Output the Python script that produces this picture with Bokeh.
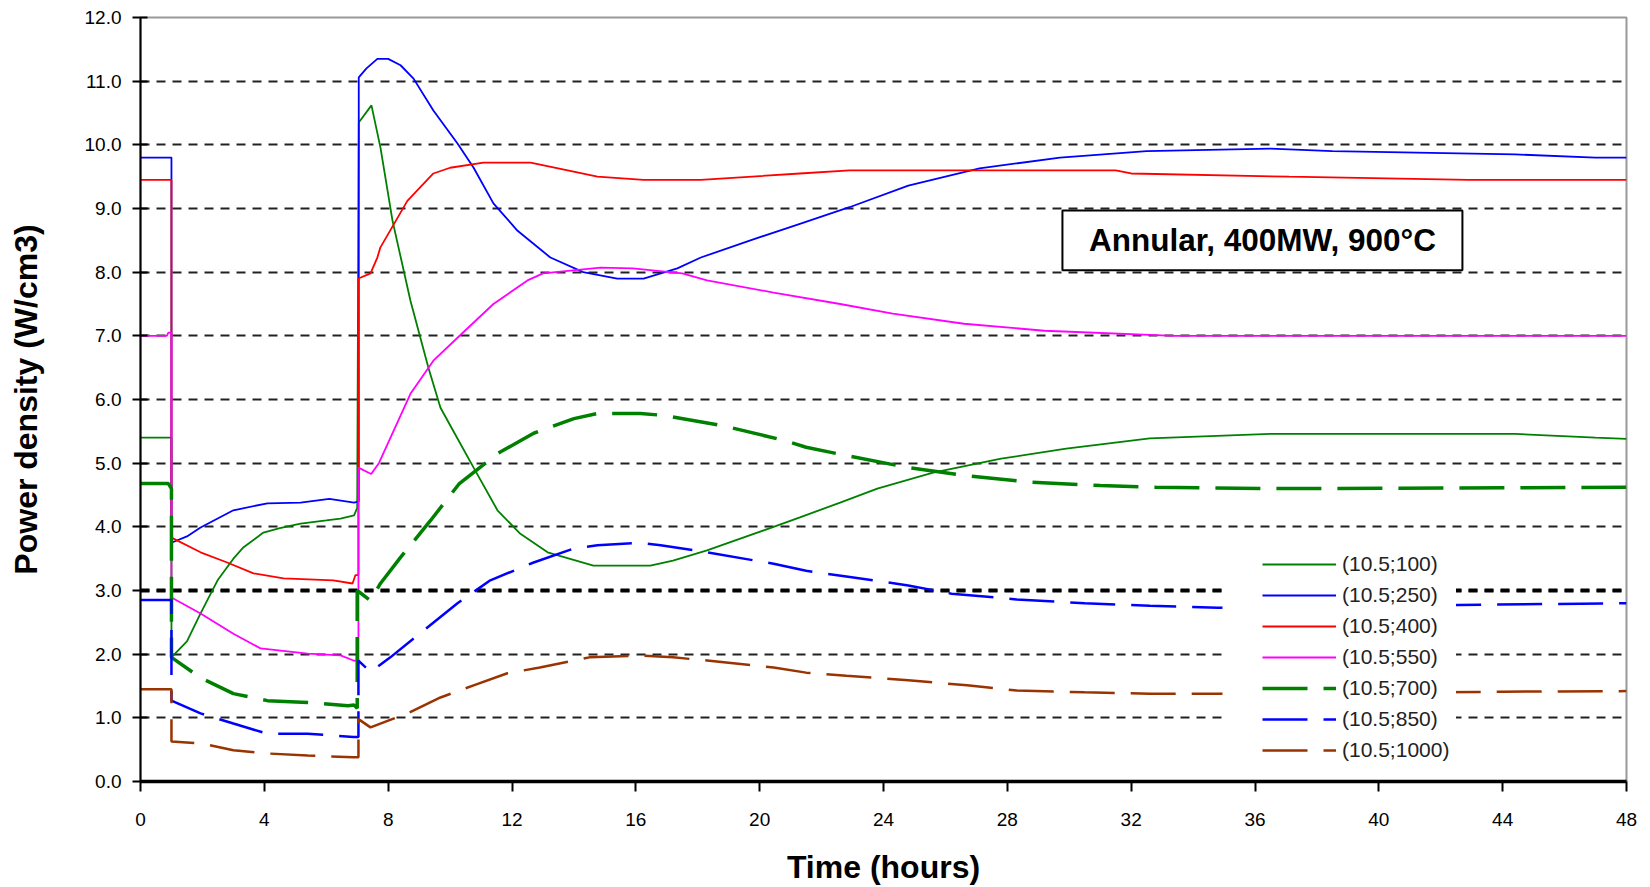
from bokeh.plotting import figure
from bokeh.models import (Range1d, FixedTicker, Span, BoxAnnotation, Label,
                          PrintfTickFormatter, Legend, LegendItem)
from bokeh.embed import file_html
from bokeh.resources import INLINE

# ---- data ----
labels = ["(10.5;100)", "(10.5;250)", "(10.5;400)", "(10.5;550)",
          "(10.5;700)", "(10.5;850)", "(10.5;1000)"]

t100 = [0, 1.0, 1.0, 1.5, 1.94, 2.49, 3.0, 3.33, 3.97, 4.5, 5.17, 6.0, 6.46, 6.9, 7.0, 7.05,
        7.46, 7.75, 8.14, 8.72, 9.3, 9.69, 10.1, 10.76, 11.53, 12.27, 13.15, 14.63, 16.47,
        17.2, 18.3, 20.45, 21.3, 22.6, 23.8, 25.6, 27.8, 29.9, 32.6, 36.5, 44.4, 47.0, 48.0]
v100 = [5.4, 5.4, 1.95, 2.2, 2.64, 3.16, 3.5, 3.68, 3.91, 3.98, 4.05, 4.1, 4.13, 4.18, 4.3, 10.35,
        10.62, 9.96, 8.81, 7.55, 6.5, 5.87, 5.51, 4.93, 4.26, 3.89, 3.6, 3.39, 3.39,
        3.47, 3.63, 4.0, 4.15, 4.38, 4.6, 4.85, 5.07, 5.23, 5.39, 5.46, 5.46, 5.4, 5.38]

t250 = [0, 1.0, 1.0, 1.5, 1.94, 3.0, 4.1, 5.17, 6.1, 6.9, 7.05, 7.05, 7.3, 7.65, 8.0, 8.4,
        8.82, 9.46, 10.24, 10.76, 11.4, 12.18, 13.24, 14.3, 15.4, 16.25, 17.34, 18.1, 19.7,
        21.3, 22.9, 24.8, 27.1, 29.7, 32.5, 36.5, 38.5, 44.4, 47.0, 48.0]
v250 = [9.8, 9.8, 3.75, 3.85, 3.99, 4.26, 4.37, 4.38, 4.44, 4.38, 4.4, 11.06, 11.2, 11.35, 11.35, 11.25,
        11.04, 10.54, 10.02, 9.64, 9.08, 8.65, 8.23, 8.0, 7.9, 7.9, 8.06, 8.23, 8.5,
        8.76, 9.02, 9.36, 9.63, 9.8, 9.9, 9.94, 9.9, 9.85, 9.8, 9.8]

t400 = [0, 1.0, 1.0, 1.94, 2.8, 3.65, 4.62, 6.23, 6.85, 6.94, 7.04, 7.04, 7.43, 7.65, 7.75,
        8.62, 9.46, 10.0, 11.08, 12.6, 13.8, 14.76, 16.25, 18.1, 21.3, 22.9, 31.5, 32.0,
        37.1, 42.9, 48.0]
v400 = [9.45, 9.45, 3.83, 3.6, 3.44, 3.27, 3.19, 3.16, 3.11, 3.24, 3.24, 7.9, 7.98, 8.23, 8.39,
        9.12, 9.55, 9.64, 9.72, 9.72, 9.6, 9.5, 9.45, 9.45, 9.55, 9.6, 9.6, 9.55,
        9.5, 9.45, 9.45]

t550 = [0, 0.85, 0.9, 1.0, 1.0, 1.94, 3.0, 3.88, 5.4, 6.46, 6.88, 7.04, 7.04, 7.45, 7.7,
        8.72, 9.46, 10.24, 11.4, 12.5, 13.0, 14.86, 15.9, 17.5, 18.3, 20.45, 22.6, 24.3,
        26.6, 29.2, 33.4, 48.0]
v550 = [7.0, 7.0, 7.05, 7.05, 2.89, 2.64, 2.32, 2.09, 2.01, 1.98, 1.9, 1.9, 4.93, 4.83, 5.0,
        6.09, 6.61, 6.97, 7.5, 7.87, 7.98, 8.07, 8.06, 7.98, 7.87, 7.68, 7.5, 7.35,
        7.19, 7.08, 7.0, 7.0]

t700 = [0, 0.9, 1.0, 1.0, 1.94, 3.0, 4.1, 5.4, 6.7, 6.9, 7.0, 7.0, 7.43, 7.75, 8.4, 9.37,
        10.3, 11.53, 12.7, 14.0, 14.76, 16.15, 16.9, 18.8, 20.77, 21.5, 22.8, 24.8, 26.7,
        28.8, 31.0, 32.8, 36.4, 48.0]
v700 = [4.68, 4.68, 4.6, 1.95, 1.63, 1.38, 1.27, 1.24, 1.19, 1.2, 1.15, 3.0, 2.84, 3.11, 3.52, 4.1,
        4.68, 5.15, 5.47, 5.7, 5.78, 5.78, 5.75, 5.59, 5.36, 5.25, 5.12, 4.93, 4.8,
        4.7, 4.65, 4.62, 4.6, 4.62]

t850 = [0, 1.0, 1.0, 1.94, 3.0, 4.1, 5.4, 6.88, 7.04, 7.04, 7.43, 8.07, 9.14, 10.24, 11.3,
        12.7, 14.0, 14.76, 16.15, 16.8, 18.3, 20.45, 21.5, 22.8, 24.8, 26.2, 28.3, 30.5,
        32.6, 34.8, 40.0, 48.0]
v850 = [2.85, 2.85, 1.27, 1.07, 0.91, 0.75, 0.75, 0.7, 0.7, 1.9, 1.72, 1.95, 2.37, 2.8, 3.16,
        3.44, 3.66, 3.71, 3.75, 3.71, 3.6, 3.42, 3.31, 3.22, 3.08, 2.95, 2.86, 2.8,
        2.76, 2.73, 2.76, 2.8]

t1000 = [0, 1.0, 1.0, 1.94, 3.0, 4.1, 5.4, 6.88, 7.04, 7.04, 7.43, 8.62, 9.69, 10.76, 11.85,
         12.9, 14.5, 16.15, 17.2, 18.3, 20.45, 21.5, 22.8, 24.8, 26.7, 28.3, 30.5, 32.6,
         34.8, 44.0, 48.0]
v1000 = [1.45, 1.45, 0.63, 0.6, 0.49, 0.44, 0.41, 0.38, 0.38, 0.98, 0.85, 1.07, 1.32, 1.51, 1.7,
         1.79, 1.95, 1.98, 1.95, 1.9, 1.79, 1.71, 1.66, 1.59, 1.51, 1.43, 1.4, 1.38,
         1.38, 1.41, 1.42]

x_ticks = list(range(0, 49, 4))
y_ticks = list(range(0, 13))
grid_ticks = list(range(1, 12))

title_text = "Annular, 400MW, 900°C"
x_label = "Time (hours)"
y_label = "Power density (W/cm3)"

FONT = "Liberation Sans"

p = figure(width=1642, height=887, output_backend="svg", toolbar_location=None,
           x_range=Range1d(0, 48), y_range=Range1d(0, 12),
           min_border_left=140, min_border_right=16, min_border_top=17, min_border_bottom=106)
p.background_fill_color = "white"
p.border_fill_color = "white"
p.outline_line_color = "#999999"
p.outline_line_width = 2

# grid
p.xgrid.visible = False
p.ygrid.ticker = FixedTicker(ticks=grid_ticks)
p.ygrid.grid_line_color = "#222222"
p.ygrid.grid_line_width = 2
p.ygrid.grid_line_dash = "9 7"
p.add_layout(Span(location=3, dimension="width", line_color="black", line_width=4,
                  line_dash="9 7", level="underlay"))

# axes
p.xaxis.ticker = FixedTicker(ticks=x_ticks)
p.yaxis.ticker = FixedTicker(ticks=y_ticks)
p.yaxis.formatter = PrintfTickFormatter(format="%.1f")
for ax in (p.xaxis[0], p.yaxis[0]):
    ax.major_label_text_font = FONT
    ax.major_label_text_font_size = "19px"
    ax.major_label_text_color = "black"
    ax.axis_label_text_font = FONT
    ax.axis_label_text_font_style = "bold"
    ax.axis_label_text_font_size = "32px"
    ax.axis_label_text_color = "black"
    ax.major_tick_line_color = "black"
    ax.major_tick_line_width = 2
    ax.minor_tick_line_color = None
    ax.axis_line_color = "black"
p.xaxis.axis_label = x_label
p.yaxis.axis_label = y_label
p.xaxis.axis_line_width = 3.5
p.yaxis.axis_line_width = 2
p.xaxis.major_tick_out = 10
p.xaxis.major_tick_in = 0
p.yaxis.major_tick_out = 8
p.yaxis.major_tick_in = 7
p.xaxis.major_label_standoff = 21
p.yaxis.major_label_standoff = 11
p.xaxis.axis_label_standoff = 20
p.yaxis.axis_label_standoff = 38

# series
series = [
    (t100, v100, "#008000", 1.8, "solid"),
    (t250, v250, "#0000FF", 1.8, "solid"),
    (t400, v400, "#FF0000", 1.8, "solid"),
    (t550, v550, "#FF00FF", 1.8, "solid"),
    (t700, v700, "#008000", 3.5, "45 16"),
    (t850, v850, "#0000FF", 2.5, "45 16"),
    (t1000, v1000, "#993300", 2.5, "45 16"),
]
items = []
for (tt, vv, col, lw, dash), lab in zip(series, labels):
    r = p.line(tt, vv, line_color=col, line_width=lw, line_dash=dash)
    items.append(LegendItem(label=lab, renderers=[r]))

# mask extending legend background to the left
p.add_layout(BoxAnnotation(left=34.95, right=36.3, bottom=0.2, top=3.68,
                           fill_color="white", fill_alpha=1.0, line_alpha=0))

legend = Legend(items=items, location=(1115, 12))
legend.background_fill_color = "white"
legend.background_fill_alpha = 1.0
legend.border_line_alpha = 0
legend.padding = 7
legend.margin = 0
legend.spacing = 7
legend.glyph_width = 74
legend.glyph_height = 22
legend.label_height = 22
legend.label_standoff = 6
legend.label_text_font = FONT
legend.label_text_font_size = "21px"
legend.label_text_color = "#222222"
p.add_layout(legend)

# annotation box
p.add_layout(BoxAnnotation(left=29.78, right=42.7, bottom=8.03, top=8.97,
                           fill_color="white", fill_alpha=1.0,
                           line_color="black", line_alpha=1.0, line_width=2))
p.add_layout(Label(x=36.24, y=8.5, text=title_text, text_align="center",
                   text_baseline="middle", text_font=FONT, text_font_style="bold",
                   text_font_size="31.5px", text_color="black"))

open("out.html", "w").write(file_html(p, INLINE))
